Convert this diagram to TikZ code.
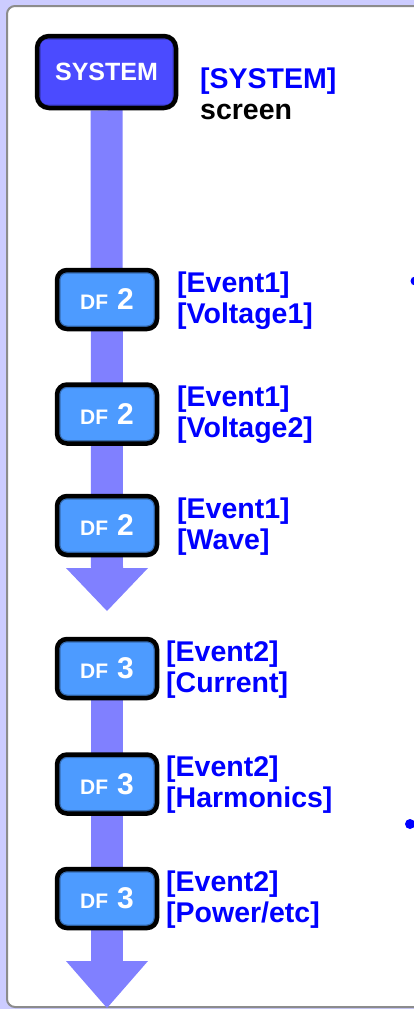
\documentclass[tikz,border=0pt]{standalone}
\usepackage{fontspec}
\setmainfont{Liberation Sans}
\usetikzlibrary{backgrounds}
\definecolor{bgl}{HTML}{CCCCFF}
\definecolor{panelb}{HTML}{8C8C8C}
\definecolor{sysfill}{HTML}{4B4BFF}
\definecolor{dffill}{HTML}{4D9BFF}
\definecolor{shaftc}{HTML}{8080FF}
\definecolor{lblue}{HTML}{0000FF}
\newcommand{\dftext}[1]{{\fontsize{21}{21}\selectfont DF}\hspace{9pt}{\fontsize{30}{30}\selectfont #1}}
\begin{document}
\begin{tikzpicture}[x=1pt,y=-1pt,
  innerglow/.style={path picture={\draw[black,opacity=0.3,line width=7pt,rounded corners=10pt] (path picture bounding box.south west) rectangle (path picture bounding box.north east);}},
  sysbox/.style={draw=black,line width=4.5pt,fill=sysfill,rounded corners=12pt,minimum width=139pt,minimum height=72pt,inner sep=0pt,text=white,font=\bfseries\fontsize{25}{25}\selectfont,innerglow},
  dfbox/.style={draw=black,line width=4.5pt,fill=dffill,rounded corners=10pt,minimum width=100pt,minimum height=59pt,inner sep=0pt,text=white,font=\bfseries,innerglow},
  lbl/.style={anchor=base west,inner sep=0pt,align=left,text=lblue,font=\bfseries\fontsize{28.5}{31}\selectfont},
  shaft/.style={draw=shaftc,line width=32pt},
  head/.style={fill=shaftc}
]
\useasboundingbox (0,0) rectangle (414,1009);
% boxes
\node[sysbox] (sys) at (106.5,72) {SYSTEM};
\node[dfbox] (d1) at (107,299.5) {\dftext{2}};
\node[dfbox] (d2) at (107,414) {\dftext{2}};
\node[dfbox] (d3) at (107,525.5) {\dftext{2}};
\node[dfbox] (d4) at (107,668.5) {\dftext{3}};
\node[dfbox] (d5) at (107,784) {\dftext{3}};
\node[dfbox] (d6) at (107,898.5) {\dftext{3}};
% labels (base anchor = baseline of last line)
\node[lbl] (sysl) at (200,119) {[SYSTEM]\\\textcolor{black}{screen}};
\node[lbl] (l1) at (177,323) {[Event1]\\{}[Voltage1]};
\node[lbl] (l2) at (177,437.5) {[Event1]\\{}[Voltage2]};
\node[lbl] (l3) at (177,549) {[Event1]\\{}[Wave]};
\node[lbl] (l4) at (166,692) {[Event2]\\{}[Current]};
\node[lbl] (l5) at (166,807) {[Event2]\\{}[Harmonics]};
\node[lbl] (l6) at (166,922) {[Event2]\\{}[Power/etc]};
% arrow coordinates
\coordinate (h1) at (107,568);
\coordinate (t1) at (107,611);
\coordinate (h2) at (107,961);
\coordinate (t2) at (107,1008);
% bullets cut at right edge
\fill[lblue] (415,281) circle (4.5pt);
\fill[lblue] (410,824) circle (5pt);
\begin{scope}[on background layer]
  \fill[bgl] (0,0) rectangle (414,1009);
  \draw[panelb,line width=2pt,fill=white,rounded corners=8pt] (7,6) rectangle (440,1007);
  \draw[shaft] (sys) -- (h1);
  \fill[head] ([xshift=-41pt]h1) -- ([xshift=41pt]h1) -- (t1) -- cycle;
  \draw[shaft] (d4) -- (h2);
  \fill[head] ([xshift=-41pt]h2) -- ([xshift=41pt]h2) -- (t2) -- cycle;
\end{scope}
\end{tikzpicture}
\end{document}
